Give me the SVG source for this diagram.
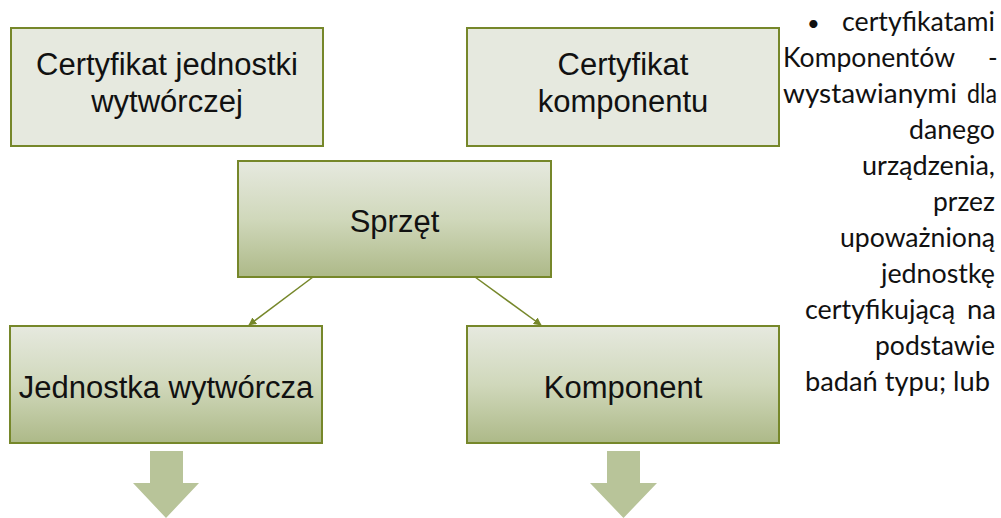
<svg xmlns="http://www.w3.org/2000/svg" width="1001" height="518" viewBox="0 0 1001 518">
<style>
.box{stroke:#76872a;stroke-width:2}
.flat{fill:#e6e9df}
.grad{fill:url(#g)}
.lbl{font-family:"Liberation Sans",Arial,sans-serif;font-size:31px;fill:#111;text-anchor:middle}
.side{font-family:Lato,"Liberation Sans",sans-serif;font-size:26px;fill:#111}
.conn{stroke:#76872a;stroke-width:1.5;fill:none}
.big{fill:#b8c499}
</style>
<defs>
<linearGradient id="g" x1="0" y1="0" x2="0" y2="1">
<stop offset="0" stop-color="#e6e9df"/>
<stop offset="0.5" stop-color="#d0d8bb"/>
<stop offset="1" stop-color="#adb988"/>
</linearGradient>
<marker id="ah" viewBox="0 0 10 10" refX="9" refY="5" markerWidth="8" markerHeight="8" markerUnits="userSpaceOnUse" orient="auto">
<path d="M0,0 L10,5 L0,10 Z" fill="#76872a"/>
</marker>
</defs>
<g id="cert-jw">
<rect class="box flat" x="11" y="28" width="312" height="118"/>
<text class="lbl" x="167" y="75">Certyfikat jednostki</text>
<text class="lbl" x="167" y="112">wytwórczej</text>
</g>
<g id="cert-k">
<rect class="box flat" x="467" y="28" width="312" height="118"/>
<text class="lbl" x="623" y="75">Certyfikat</text>
<text class="lbl" x="623" y="112">komponentu</text>
</g>
<g id="sprzet">
<rect class="box grad" x="238" y="161" width="313" height="116"/>
<text class="lbl" x="394.5" y="232">Sprzęt</text>
</g>
<g id="jw">
<rect class="box grad" x="10" y="326" width="312" height="117"/>
<text class="lbl" x="166" y="398">Jednostka wytwórcza</text>
</g>
<g id="komp">
<rect class="box grad" x="467" y="326" width="312" height="117"/>
<text class="lbl" x="623" y="398">Komponent</text>
</g>
<g id="connectors">
<line class="conn" x1="313" y1="277" x2="249" y2="325" marker-end="url(#ah)"/>
<line class="conn" x1="475" y1="277" x2="541" y2="325" marker-end="url(#ah)"/>
</g>
<g id="arrow-left">
<polygon class="big" points="150,451 183,451 183,483 199,483 166,518 133,483 150,483"/>
</g>
<g id="arrow-right">
<polygon class="big" points="607,451 640,451 640,483 657,483 623.5,518 590,483 607,483"/>
</g>
<g id="side-text">
<text class="side" x="807" y="31" style="font-size:22px">•</text>
<text class="side" x="842" y="31" textLength="153" lengthAdjust="spacingAndGlyphs">certyfikatami</text>
<text class="side" x="783" y="67" textLength="172" lengthAdjust="spacingAndGlyphs">Komponentów</text>
<text class="side" x="988" y="67">-</text>
<text class="side" x="783" y="103" textLength="174" lengthAdjust="spacingAndGlyphs">wystawianymi</text>
<text class="side" x="967" y="103" textLength="30" lengthAdjust="spacingAndGlyphs">dla</text>
<text class="side" x="909" y="139" textLength="86" lengthAdjust="spacingAndGlyphs">danego</text>
<text class="side" x="862" y="175" textLength="133" lengthAdjust="spacingAndGlyphs">urządzenia,</text>
<text class="side" x="933" y="211" textLength="62" lengthAdjust="spacingAndGlyphs">przez</text>
<text class="side" x="840" y="247" textLength="155" lengthAdjust="spacingAndGlyphs">upoważnioną</text>
<text class="side" x="881" y="283" textLength="114" lengthAdjust="spacingAndGlyphs">jednostkę</text>
<text class="side" x="805" y="319" textLength="150" lengthAdjust="spacingAndGlyphs">certyfikującą</text>
<text class="side" x="967" y="319" textLength="29" lengthAdjust="spacingAndGlyphs">na</text>
<text class="side" x="875" y="355" textLength="120" lengthAdjust="spacingAndGlyphs">podstawie</text>
<text class="side" x="805" y="391" textLength="185" lengthAdjust="spacingAndGlyphs">badań typu; lub</text>
</g>
</svg>
